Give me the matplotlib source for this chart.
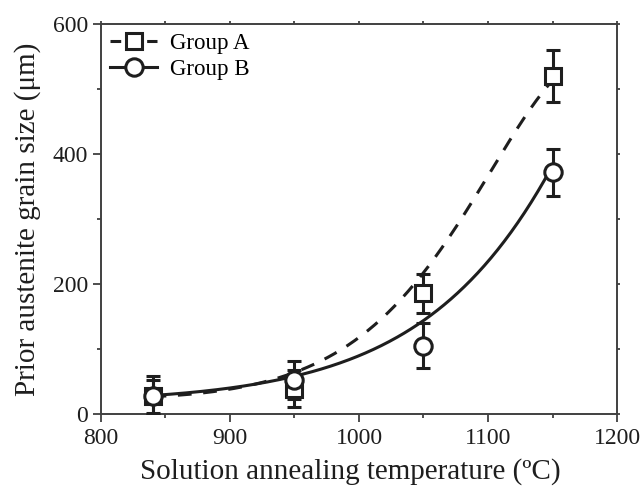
import numpy as np
import matplotlib.pyplot as plt

# Data
temps = [840, 950, 1050, 1150]
size_a = [28, 39, 186, 520]
err_a = [30, 29, 30, 40]
size_b = [27, 52, 105, 372]
err_b = [25, 29, 35, 36]

# Fitted trend curves
fit_t_a = [840, 900, 957, 980, 1019, 1036, 1056, 1081, 1098, 1150]
fit_a = [27, 37, 70, 93, 150, 186, 234, 303, 350, 520]
fit_t_b = [840, 915, 949, 993, 1032, 1052, 1083, 1109, 1150]
fit_b = [28, 47, 57, 80, 119, 145, 206, 265, 372]

plt.rcParams['font.family'] = ['Liberation Serif', 'DejaVu Serif']
ink = '#1e1e1e'
spine_c = '#404040'

def smooth(tx, ty):
    # smooth trend: cubic in log space
    u = (np.asarray(tx, float) - 1000) / 100
    p = np.polyfit(u, np.log(ty), 3)
    xx = np.linspace(min(tx), max(tx), 300)
    return xx, np.exp(np.polyval(p, (xx - 1000) / 100))

fig = plt.figure(figsize=(6.43, 4.87), dpi=100)
ax = fig.add_axes([0.157, 0.150, 0.8026, 0.8007])

xa, ya = smooth(fit_t_a, fit_a)
xb, yb = smooth(fit_t_b, fit_b)
ax.plot(xa, ya, '--', color=ink, lw=2.2, dashes=(4.5, 3.8), zorder=2)
ax.plot(xb, yb, '-', color=ink, lw=2.2, zorder=2)

ax.errorbar(temps, size_a, yerr=err_a, fmt='none', ecolor=ink, elinewidth=2.2,
            capsize=5, capthick=2.2, zorder=3)
ax.errorbar(temps, size_b, yerr=err_b, fmt='none', ecolor=ink, elinewidth=2.2,
            capsize=5, capthick=2.2, zorder=3)
ax.plot(temps, size_a, 's', ms=11, mfc='white', mec=ink, mew=2.2, ls='none', zorder=4)
ax.plot(temps, size_b, 'o', ms=12.5, mfc='white', mec=ink, mew=2.2, ls='none', zorder=5)

# legend handles
ax.plot([], [], '--s', color=ink, lw=2.2, ms=11, mfc='white', mec=ink, mew=2.2,
        dashes=(3.5, 2.5), label='Group A')
ax.plot([], [], '-o', color=ink, lw=2.2, ms=12.5, mfc='white', mec=ink, mew=2.2,
        label='Group B')
ax.legend(loc='upper left', frameon=False, fontsize=16.5, handlelength=2.06,
          borderaxespad=0.0, handletextpad=0.57, labelspacing=0.2,
          borderpad=0.4)

ax.set_xlim(800, 1200)
ax.set_ylim(0, 600)
ax.set_xticks([800, 900, 1000, 1100, 1200])
ax.set_xticks([850, 950, 1050, 1150], minor=True)
ax.set_yticks([0, 200, 400, 600])
ax.set_yticks([100, 300, 500], minor=True)
ax.tick_params(which='both', direction='out', top=True, right=True,
               width=1.3, color=spine_c, labelsize=17, labelcolor=ink)
ax.tick_params(which='major', length=6)
ax.tick_params(which='minor', length=3)
ax.tick_params(axis='x', which='major', pad=4)
# tiny ticks on top and right
for t in ax.xaxis.get_ticklines(minor=False)[1::2] + ax.xaxis.get_ticklines(minor=True)[1::2]:
    t.set_markersize(2)
for t in ax.yaxis.get_ticklines(minor=False)[1::2] + ax.yaxis.get_ticklines(minor=True)[1::2]:
    t.set_markersize(2)
for s in ax.spines.values():
    s.set_linewidth(1.4)
    s.set_color(spine_c)

ax.set_xlabel('Solution annealing temperature (ºC)', fontsize=21, color=ink,
              labelpad=7, x=0.4835)
ax.set_ylabel('Prior austenite grain size (μm)', fontsize=21, color=ink,
              labelpad=8)

fig.savefig('out.png', dpi=100)
